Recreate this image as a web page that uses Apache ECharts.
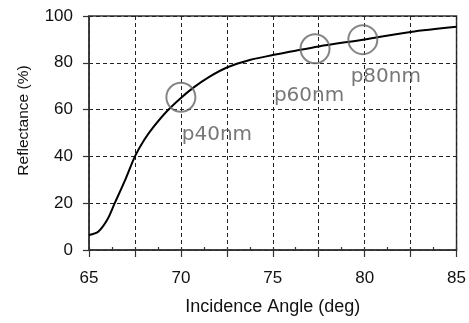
<!DOCTYPE html>
<html>
<head>
<meta charset="utf-8">
<script src="https://cdn.jsdelivr.net/npm/echarts@6/dist/echarts.min.js"></script>
<style>html,body{margin:0;padding:0;background:#fff}#c{width:469px;height:323px}</style>
</head>
<body>
<div id="c"></div>
<script>
// Reflectance curve
const angles = [65, 65.5, 66, 66.4, 67, 67.5, 68, 68.5, 69.2, 70, 70.7, 71.5, 72.5, 73.75, 75, 76, 77.5, 80, 82.5, 85];
const reflectance = [6.4, 7.8, 13, 20, 30.5, 40, 47, 52.5, 59, 65, 69.5, 73.8, 78, 81.2, 83.3, 84.8, 87, 90, 93.2, 95.4];
// Marked points
const markNames = ['p40nm', 'p60nm', 'p80nm'];
const markAngles = [70, 77.3, 79.9];
const markValues = [65.3, 86, 89.9];
// Axis ticks
const xTickLabels = [65, 70, 75, 80, 85];
const yTickLabels = [0, 20, 40, 60, 80, 100];

const labelOffsets = [[36, 38], [-6, 47], [23, 37.5]];

const chart = echarts.init(document.getElementById('c'));
const dashed = { color: '#222', type: [4, 3], width: 1 };
chart.setOption({
  animation: false,
  grid: { left: 89, right: 12, top: 16, bottom: 73, show: true, borderColor: '#333', borderWidth: 1.5, backgroundColor: 'transparent' },
  xAxis: [{
    type: 'value', min: 65, max: 85, interval: 2.5,
    axisLine: { onZero: false, lineStyle: { color: '#333', width: 1.5 } },
    axisTick: { show: true, inside: false, length: 7, lineStyle: { color: '#333', width: 1.2 } },
    axisLabel: {
      margin: 20, fontFamily: 'Liberation Sans', fontSize: 17, color: '#111',
      formatter: v => (xTickLabels.indexOf(v) >= 0 ? String(v) : '')
    },
    splitLine: { show: true, lineStyle: dashed }
  }, {
    type: 'value', min: 65, max: 85, interval: 1.25, position: 'bottom',
    axisLine: { show: false },
    axisTick: { show: true, inside: true, length: 3, lineStyle: { color: '#333', width: 1.2 } },
    axisLabel: { show: false },
    splitLine: { show: false }
  }],
  yAxis: {
    type: 'value', min: 0, max: 100, interval: 20,
    axisLine: { show: true, onZero: false, lineStyle: { color: '#333', width: 1.5 } },
    axisTick: { show: true, inside: false, length: 6, lineStyle: { color: '#333', width: 1.2 } },
    axisLabel: {
      margin: 16, fontFamily: 'Liberation Sans', fontSize: 17, color: '#111',
      formatter: v => (yTickLabels.indexOf(v) >= 0 ? String(v) : '')
    },
    splitLine: { show: true, lineStyle: dashed }
  },
  graphic: [
    { type: 'text', x: 272.7, y: 307, style: { text: 'Incidence Angle (deg)', font: '18px "Liberation Sans"', fill: '#111', align: 'center', verticalAlign: 'middle' } },
    { type: 'text', x: 24, y: 120.5, rotation: Math.PI / 2, style: { text: 'Reflectance (%)', font: '15.5px "Liberation Sans"', fill: '#111', align: 'center', verticalAlign: 'middle' } }
  ],
  series: [{
    type: 'line', xAxisIndex: 0,
    data: angles.map((a, i) => [a, reflectance[i]]),
    smooth: 0.3, showSymbol: false,
    lineStyle: { color: '#000', width: 2 }
  }, {
    type: 'scatter', xAxisIndex: 0,
    data: markAngles.map((a, i) => ({
      value: [a, markValues[i]], name: markNames[i],
      label: { offset: labelOffsets[i] }
    })),
    symbol: 'circle', symbolSize: 29,
    itemStyle: { color: 'rgba(0,0,0,0)', borderColor: '#666', borderWidth: 2 },
    label: {
      show: true, position: 'inside', formatter: p => p.name,
      fontFamily: 'DejaVu Sans', fontSize: 20, color: '#555'
    },
    z: 5
  }]
});
</script>
</body>
</html>
